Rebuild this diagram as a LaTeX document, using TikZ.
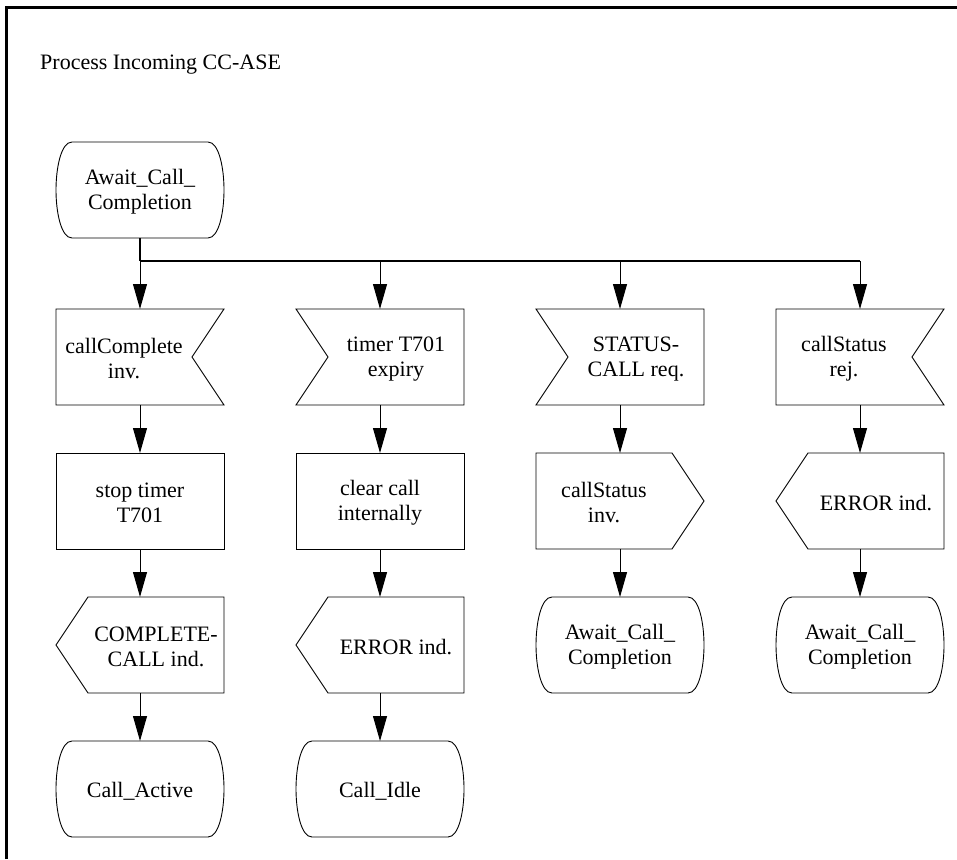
\documentclass[tikz,border=0pt]{standalone}
\usepackage{fontspec}
\setmainfont{Liberation Serif}
\usetikzlibrary{calc,arrows.meta}
\tikzset{
  box/.style={draw=none, minimum width=168pt, minimum height=96pt, inner sep=0pt, outer sep=0pt},
  shp/.style={line width=0.9pt},
  lbl/.style={font=\fontsize{22}{25}\selectfont, align=center, inner sep=0pt},
  arr/.style={line width=1pt, -{Triangle[length=25pt,width=14pt]}},
  frame/.style={line width=2.5pt},
}
\newcommand{\stateshape}[1]{%
  \draw[shp] ($(#1.north west)+(16,0)$) -- ($(#1.north east)+(-16,0)$)
    .. controls +(11,0) and +(0,-22) .. (#1.east)
    .. controls +(0,22) and +(11,0) .. ($(#1.south east)+(-16,0)$)
    -- ($(#1.south west)+(16,0)$)
    .. controls +(-11,0) and +(0,22) .. (#1.west)
    .. controls +(0,-22) and +(-11,0) .. ($(#1.north west)+(16,0)$) -- cycle;}
\newcommand{\inR}[1]{%
  \draw[shp] (#1.north west) -- (#1.north east) -- ($(#1.east)+(-32,0)$) -- (#1.south east) -- (#1.south west) -- cycle;}
\newcommand{\inL}[1]{%
  \draw[shp] (#1.north west) -- (#1.north east) -- (#1.south east) -- (#1.south west) -- ($(#1.west)+(32,0)$) -- cycle;}
\newcommand{\outR}[1]{%
  \draw[shp] (#1.north west) -- ($(#1.north east)+(-32,0)$) -- (#1.east) -- ($(#1.south east)+(-32,0)$) -- (#1.south west) -- cycle;}
\newcommand{\outL}[1]{%
  \draw[shp] (#1.west) -- ($(#1.north west)+(32,0)$) -- (#1.north east) -- (#1.south east) -- ($(#1.south west)+(32,0)$) -- cycle;}
\begin{document}
\begin{tikzpicture}[x=1pt,y=-1pt]
\useasboundingbox (0,0) rectangle (957,859);
% frame
\draw[frame] (6.5,859) -- (6.5,7.5) -- (957,7.5);
\node[lbl, anchor=base west] (title) at (40,69) {Process Incoming CC-ASE};

% start
\node[box] (st) at (140,190) {};
\stateshape{st}
\node[lbl] (stt) at ($(st)+(0,2)$) {Await\_Call\_\\Completion};

% row 1: inputs
\node[box] (in1) at (140,357) {};
\inR{in1}
\node[lbl] (in1t) at ($(in1)+(-16,2)$) {callComplete\\inv.};
\node[box] (in2) at (380,357) {};
\inL{in2}
\node[lbl] (in2t) at ($(in2)+(16,2)$) {timer T701\\expiry};
\node[box] (in3) at (620,357) {};
\inL{in3}
\node[lbl] (in3t) at ($(in3)+(16,2)$) {STATUS-\\CALL req.};
\node[box] (in4) at (860,357) {};
\inR{in4}
\node[lbl] (in4t) at ($(in4)+(-16,2)$) {callStatus\\rej.};

% row 2
\node[box, draw, shp] (t1) at (140,501) {};
\node[lbl] (t1t) at ($(t1)+(0,2)$) {stop timer\\T701};
\node[box, draw, shp] (t2) at (380,501) {};
\node[lbl] (t2t) at ($(t2)+(0,2)$) {clear call\\internally};
\node[box] (o3) at (620,501) {};
\outR{o3}
\node[lbl] (o3t) at ($(o3)+(-16,2)$) {callStatus\\inv.};
\node[box] (o4) at (860,501) {};
\outL{o4}
\node[lbl] (o4t) at ($(o4)+(16,2)$) {ERROR ind.};

% row 3
\node[box] (o1) at (140,645) {};
\outL{o1}
\node[lbl] (o1t) at ($(o1)+(16,2)$) {COMPLETE-\\CALL ind.};
\node[box] (o2) at (380,645) {};
\outL{o2}
\node[lbl] (o2t) at ($(o2)+(16,2)$) {ERROR ind.};
\node[box] (s3) at (620,645) {};
\stateshape{s3}
\node[lbl] (s3t) at ($(s3)+(0,2)$) {Await\_Call\_\\Completion};
\node[box] (s4) at (860,645) {};
\stateshape{s4}
\node[lbl] (s4t) at ($(s4)+(0,2)$) {Await\_Call\_\\Completion};

% row 4
\node[box] (s1) at (140,789) {};
\stateshape{s1}
\node[lbl] (s1t) at ($(s1)+(0,2)$) {Call\_Active};
\node[box] (s2) at (380,789) {};
\stateshape{s2}
\node[lbl] (s2t) at ($(s2)+(0,2)$) {Call\_Idle};

% connectors
\coordinate (j) at (140,261);
\draw[line width=1.6pt] (st.south) -- (j);
\draw[line width=1.4pt] (j) -- (in4.north |- j);
\draw[arr] (j) -- (in1.north);
\draw[arr] (j) -| (in2.north);
\draw[arr] (j) -| (in3.north);
\draw[arr] (j) -| (in4.north);

\draw[arr] (in1.south) -- (t1.north);
\draw[arr] (t1.south) -- (o1.north);
\draw[arr] (o1.south) -- (s1.north);

\draw[arr] (in2.south) -- (t2.north);
\draw[arr] (t2.south) -- (o2.north);
\draw[arr] (o2.south) -- (s2.north);

\draw[arr] (in3.south) -- (o3.north);
\draw[arr] (o3.south) -- (s3.north);

\draw[arr] (in4.south) -- (o4.north);
\draw[arr] (o4.south) -- (s4.north);
\end{tikzpicture}
\end{document}
